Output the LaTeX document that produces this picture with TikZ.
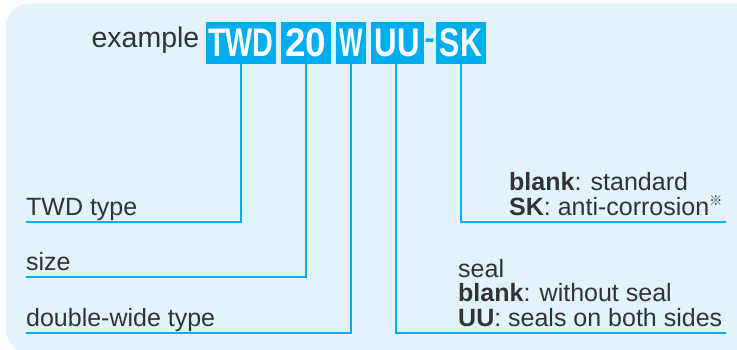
\documentclass[tikz,border=0pt]{standalone}
\usepackage{fontspec}
\setmainfont{Liberation Sans}
\newfontfamily\cjk{Noto Sans CJK JP}
\usepackage{graphicx}
\usetikzlibrary{positioning}
\definecolor{bgblue}{HTML}{E1F3FB}
\definecolor{codeblue}{HTML}{00AEEF}
\definecolor{txtgray}{HTML}{333333}
\newcommand{\codetext}[2]{\scalebox{#1}[1]{\textbf{#2}}}
\begin{document}
\begin{tikzpicture}[x=1pt, y=-1pt,
  code/.style={fill=codeblue, text=white, inner sep=0pt, minimum height=42pt, font=\fontsize{40}{40}\selectfont},
  desc/.style={text=txtgray, inner sep=0pt, anchor=base west, align=left, font=\fontsize{25}{24.5}\selectfont},
  lead/.style={draw=codeblue, line width=2.5pt}]
\useasboundingbox (0,0) rectangle (737,349);
\fill[bgblue, rounded corners=23pt] (6,3.5) rectangle (760,353);
% part number
\node[code, minimum width=70pt] (twd) at (241,43) {\codetext{0.72}{TWD}};
\node[code, minimum width=50pt] (size) at (306,43) {\codetext{0.92}{20}};
\node[code, minimum width=30pt] (wide) at (351,43) {\codetext{0.62}{W}};
\node[code, minimum width=53pt] (seal) at (397.5,43) {\codetext{0.78}{UU}};
\node[inner sep=0pt, text=codeblue, font=\fontsize{30}{30}\selectfont\bfseries] (dash) at (429.5,44) {-};
\node[code, minimum width=50pt] (sk) at (461,43) {\codetext{0.76}{SK}};
\node[text=txtgray, inner sep=0pt, anchor=base east, font=\fontsize{28.5}{28.5}\selectfont] (ex) at (199.5,47) {example};
% line ends
\coordinate (twdend) at (26,222);
\coordinate (sizeend) at (26,277);
\coordinate (wideend) at (26,333);
\coordinate (sealend) at (726,333);
\coordinate (skend) at (726,222);
\draw[lead] (twd.south) |- (twdend);
\draw[lead] (size.south) |- (sizeend);
\draw[lead] (wide.south) |- (wideend);
\draw[lead] ([xshift=-1.5pt]seal.south) |- (sealend);
\draw[lead] (sk.south) |- (skend);
% labels
\node[desc] (twdtype) at (26,215) {TWD type};
\node[desc] (sizetype) at (26,270) {size};
\node[desc] (widetype) at (26,326) {double-wide type};
\node[desc] (skdesc) at (509,215) {\textbf{blank}: standard\\\textbf{SK}: anti-corrosion\smash{\textsuperscript{\cjk\fontsize{13}{13}\selectfont ※}}};
\node[desc] (sealdesc) at (458,326) {seal\\\textbf{blank}: without seal\\\textbf{UU}: seals on both sides};
\end{tikzpicture}
\end{document}
